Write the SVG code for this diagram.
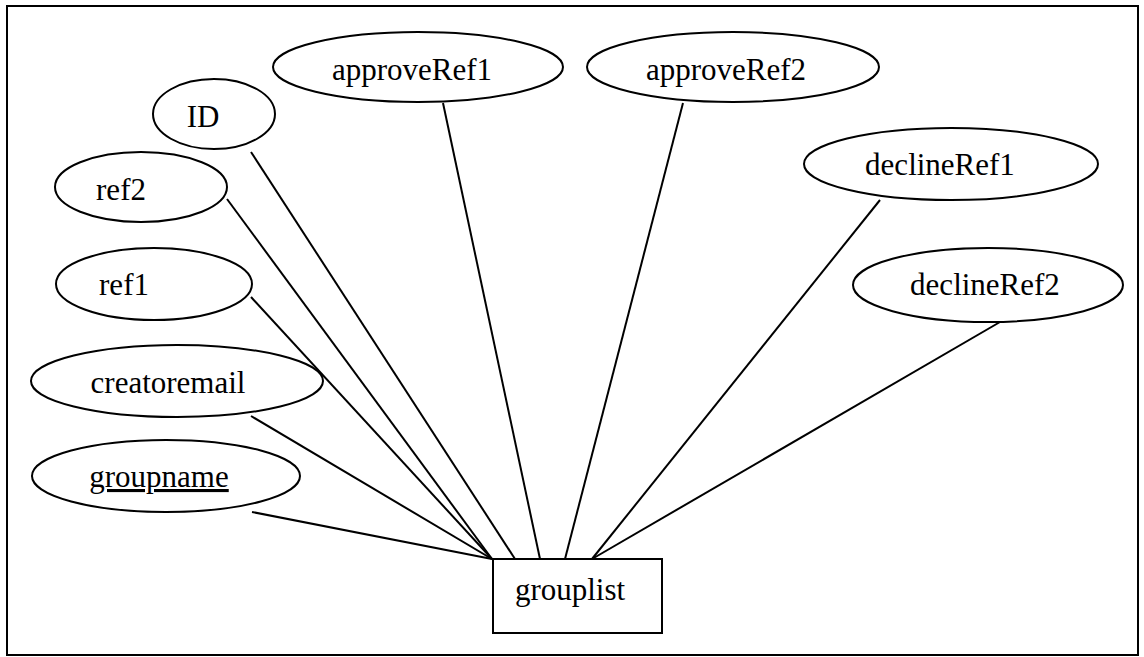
<svg xmlns="http://www.w3.org/2000/svg" width="1144" height="657" viewBox="0 0 1144 657">
  <style>
    .attr { fill: #fff; stroke: #000; stroke-width: 2; }
    .ent { fill: #fff; stroke: #000; stroke-width: 2; }
    .lbl { font-family: "Liberation Serif", "Times New Roman", serif; font-size: 31px; fill: #000; text-anchor: middle; }
    .link { stroke: #000; stroke-width: 2; fill: none; }
  </style>
  <rect x="0" y="0" width="1144" height="657" fill="#fff"/>
  <!-- outer frame -->
  <rect x="7" y="6" width="1131" height="649" fill="none" stroke="#000" stroke-width="2"/>

  <!-- attribute links to the entity -->
  <g id="connectors">
    <line class="link" x1="252" y1="512" x2="492" y2="559"/>
    <line class="link" x1="251" y1="416" x2="492" y2="559"/>
    <line class="link" x1="251" y1="297" x2="492" y2="559"/>
    <line class="link" x1="227" y1="199" x2="492" y2="559"/>
    <line class="link" x1="251" y1="152" x2="515" y2="559"/>
    <line class="link" x1="443" y1="103" x2="540" y2="559"/>
    <line class="link" x1="683" y1="103" x2="565" y2="559"/>
    <line class="link" x1="880" y1="200" x2="592" y2="559"/>
    <line class="link" x1="1000" y1="322" x2="592" y2="559"/>
  </g>

  <g id="node-ID">
    <ellipse class="attr" cx="214" cy="114" rx="61" ry="35"/>
    <text class="lbl" x="203" y="127">ID</text>
  </g>
  <g id="node-ref2">
    <ellipse class="attr" cx="141" cy="187" rx="86" ry="35"/>
    <text class="lbl" x="121" y="200">ref2</text>
  </g>
  <g id="node-ref1">
    <ellipse class="attr" cx="154" cy="284" rx="98" ry="36"/>
    <text class="lbl" x="124" y="295">ref1</text>
  </g>
  <g id="node-creatoremail">
    <ellipse class="attr" cx="177" cy="381" rx="146" ry="36"/>
    <text class="lbl" x="168" y="393">creatoremail</text>
  </g>
  <g id="node-groupname">
    <ellipse class="attr" cx="166" cy="476" rx="134" ry="36"/>
    <text class="lbl" x="159" y="487" text-decoration="underline">groupname</text>
  </g>
  <g id="node-approveRef1">
    <ellipse class="attr" cx="418" cy="67" rx="145" ry="35"/>
    <text class="lbl" x="412" y="80">approveRef1</text>
  </g>
  <g id="node-approveRef2">
    <ellipse class="attr" cx="733" cy="67" rx="146" ry="35"/>
    <text class="lbl" x="726" y="80">approveRef2</text>
  </g>
  <g id="node-declineRef1">
    <ellipse class="attr" cx="951" cy="164" rx="147" ry="36"/>
    <text class="lbl" x="940" y="175">declineRef1</text>
  </g>
  <g id="node-declineRef2">
    <ellipse class="attr" cx="988" cy="285" rx="135" ry="37"/>
    <text class="lbl" x="985" y="295">declineRef2</text>
  </g>

  <g id="node-grouplist">
    <rect class="ent" x="493" y="559" width="169" height="74"/>
    <text class="lbl" x="570" y="600">grouplist</text>
  </g>
</svg>
